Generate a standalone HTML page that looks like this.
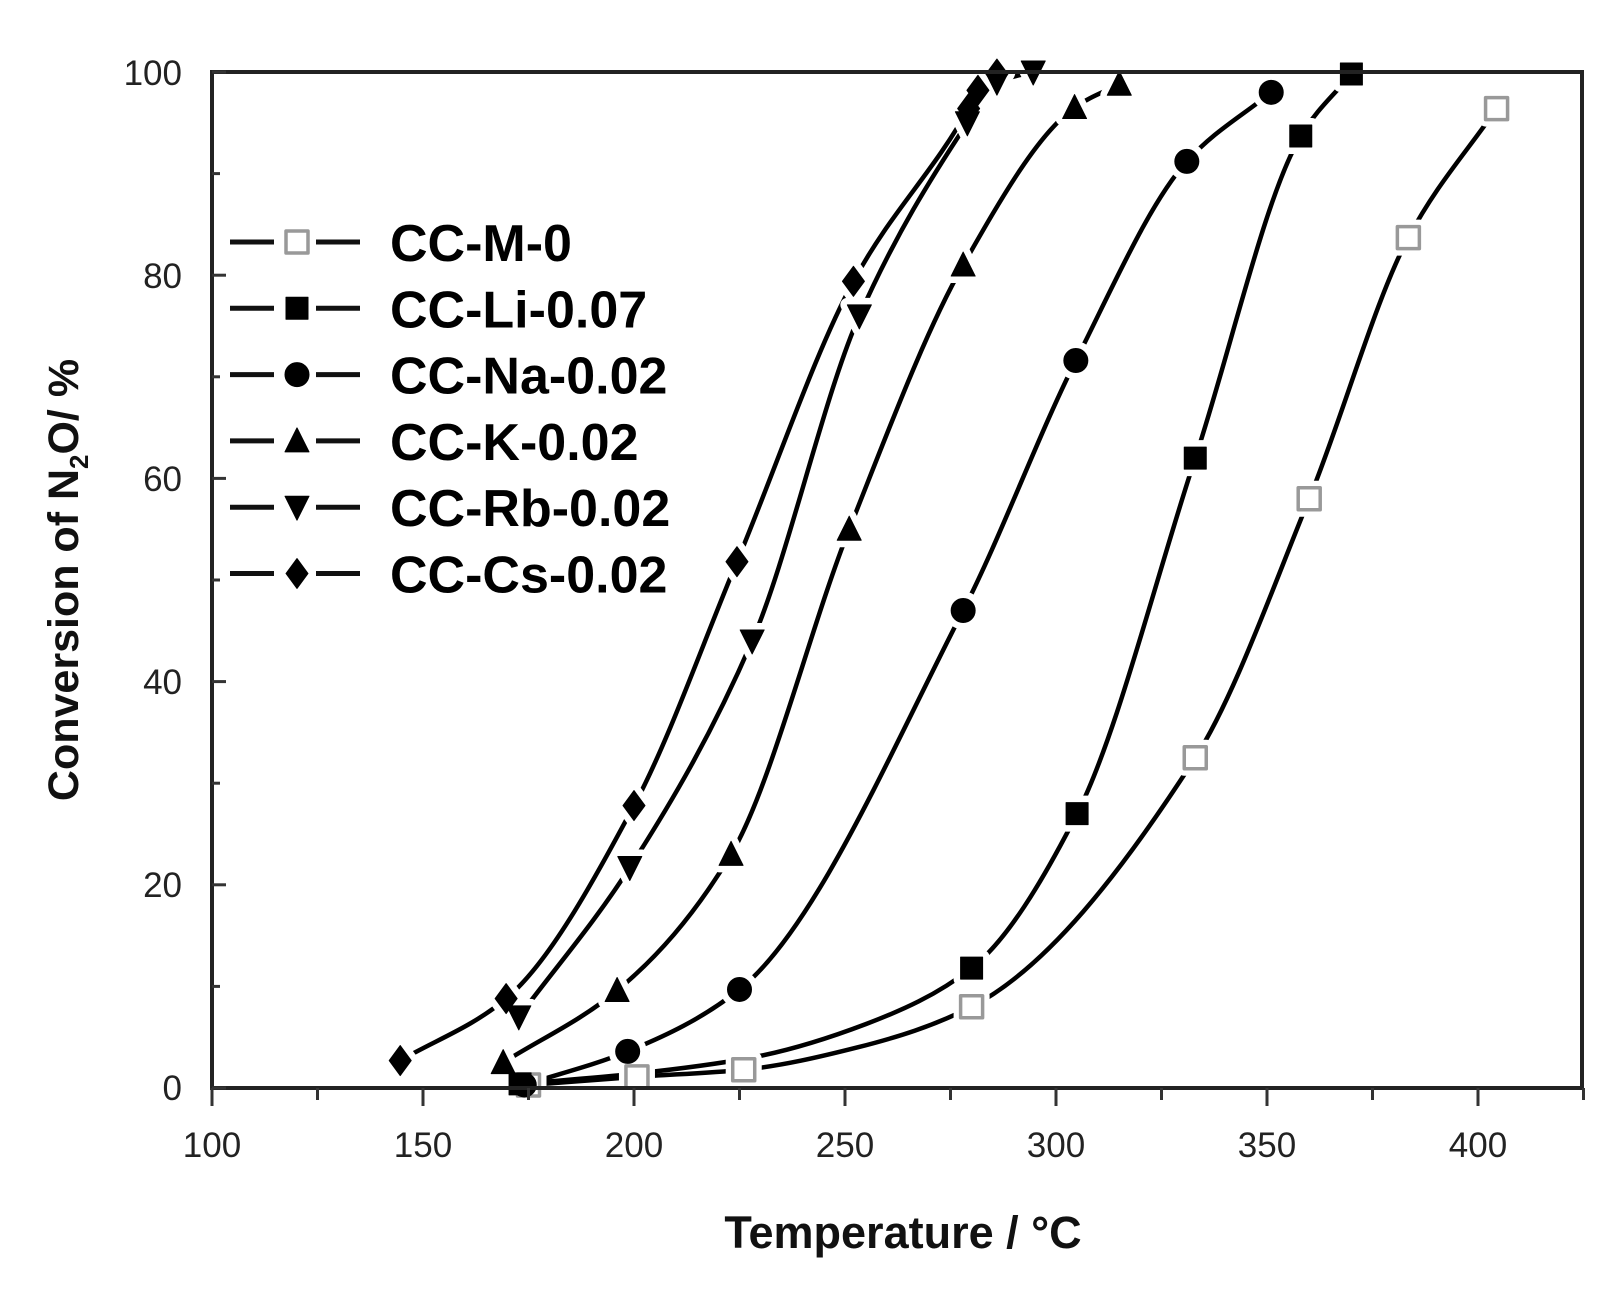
<!DOCTYPE html>
<html><head><meta charset="utf-8"><style>
html,body{margin:0;padding:0;background:#fff;}
svg{display:block;}
text{font-family:"Liberation Sans",Arial,sans-serif;}
</style></head><body>
<svg id="s" width="1620" height="1296" viewBox="0 0 1620 1296" xmlns="http://www.w3.org/2000/svg">
<rect width="1620" height="1296" fill="#fff"/>
<g id="curves" fill="none" stroke="#000" stroke-width="4.5"></g>
<g id="marks"></g>
<rect x="212" y="72" width="1370" height="1016" fill="none" stroke="#222" stroke-width="4"/>
<g id="ticks" stroke="#333" stroke-width="3"></g>
<g font-size="35" fill="#222" text-anchor="end">
<text x="182" y="1100">0</text>
<text x="182" y="897">20</text>
<text x="182" y="694">40</text>
<text x="182" y="491">60</text>
<text x="182" y="288">80</text>
<text x="182" y="85">100</text>
</g>
<g font-size="35" fill="#222" text-anchor="middle">
<text x="212" y="1157">100</text>
<text x="423" y="1157">150</text>
<text x="634" y="1157">200</text>
<text x="845" y="1157">250</text>
<text x="1056" y="1157">300</text>
<text x="1267" y="1157">350</text>
<text x="1478" y="1157">400</text>
</g>
<text x="903" y="1248" font-size="45" font-weight="bold" fill="#111" text-anchor="middle">Temperature / °C</text>
<text transform="translate(78,580) rotate(-90)" font-size="43" font-weight="bold" fill="#111" text-anchor="middle">Conversion of N<tspan font-size="26" dy="10">2</tspan><tspan dy="-10">O/ %</tspan></text>
<g id="legend" font-size="52" font-weight="bold" fill="#000"></g>
</svg>
<script>
var NS="http://www.w3.org/2000/svg";
function X(t){return 212+(t-100)*4.22;}
function Y(v){return 1088-v*10.16;}
function el(tag,a,p){var e=document.createElementNS(NS,tag);for(var k in a)e.setAttribute(k,a[k]);p.appendChild(e);return e;}
var ticks=document.getElementById('ticks');
for(var t=100;t<=425;t+=25){var maj=(t%50==0);el('line',{x1:X(t),x2:X(t),y1:1088,y2:1088+(maj?18:12)},ticks);}
for(var v=0;v<=100;v+=10){var maj=(v%20==0);el('line',{x1:212,x2:212+(maj?14:8),y1:Y(v),y2:Y(v)},ticks);}
// h: hidden shaping points (no marker)
var series=[
 {m:'osq',d:[[175,0.3],[200.7,1.1],[226,1.8],[280,8],[333,32.5],[360,58],[383.5,83.7],[404.4,96.4]],h:[[253,4]]},
 {m:'sq',d:[[173,0.4],[280,11.8],[305,27],[333,62],[358,93.7],[370,99.8]],h:[[200,1.4],[228,3],[255,6.3]]},
 {m:'ci',d:[[174,0.3],[198.5,3.6],[225,9.7],[278,47],[304.7,71.6],[331,91.2],[351,98]]},
 {m:'tu',d:[[169,2.5],[196,9.6],[223,23],[251,55],[278,81],[304.4,96.5],[315,98.8]]},
 {m:'td',d:[[172.7,7],[199,21.7],[228,44],[253.4,76],[279,95],[286,99],[294.6,100]]},
 {m:'di',d:[[144.6,2.7],[169.7,8.8],[200,27.8],[224.4,51.8],[252,79.4],[279.3,96.4],[281.5,98.2],[286,99.8]]}
];
var cg=document.getElementById('curves'),mg=document.getElementById('marks');
function mono(pts){var n=pts.length,dx=[],m=[],t=[];
 for(var i=0;i<n-1;i++){dx[i]=pts[i+1][0]-pts[i][0];m[i]=(pts[i+1][1]-pts[i][1])/dx[i];}
 t[0]=m[0];t[n-1]=m[n-2];
 for(var i=1;i<n-1;i++){if(m[i-1]*m[i]<=0)t[i]=0;else{var w1=2*dx[i]+dx[i-1],w2=dx[i]+2*dx[i-1];t[i]=(w1+w2)/(w1/m[i-1]+w2/m[i]);}}
 var s='M'+pts[0][0]+','+pts[0][1];
 for(var i=0;i<n-1;i++){var h=dx[i]/3;
  s+=' C'+(pts[i][0]+h)+','+(pts[i][1]+t[i]*h)+' '+(pts[i+1][0]-h)+','+(pts[i+1][1]-t[i+1]*h)+' '+pts[i+1][0]+','+pts[i+1][1];}
 return s;}
function marker(m,x,y,g,halo){var r=11,a;
 var fill=(m=='osq')?'#fff':'#000',stroke=(m=='osq')?'#999':'#000';
 if(halo){fill='#fff';stroke='#fff';}
 var sw=halo?14:(m=='osq'?3.5:1);
 if(m=='osq'||m=='sq')a=el('rect',{x:x-r,y:y-r,width:2*r,height:2*r},g);
 else if(m=='ci')a=el('circle',{cx:x,cy:y,r:r+1},g);
 else if(m=='tu')a=el('polygon',{points:(x)+','+(y-r-2)+' '+(x+r+1)+','+(y+r)+' '+(x-r-1)+','+(y+r)},g);
 else if(m=='td')a=el('polygon',{points:(x)+','+(y+r+2)+' '+(x+r+1)+','+(y-r)+' '+(x-r-1)+','+(y-r)},g);
 else a=el('polygon',{points:x+','+(y-r-4)+' '+(x+r)+','+y+' '+x+','+(y+r+4)+' '+(x-r)+','+y},g);
 a.setAttribute('fill',fill);a.setAttribute('stroke',stroke);a.setAttribute('stroke-width',sw);a.setAttribute('stroke-linejoin','round');}
series.forEach(function(s){var all=s.d.concat(s.h||[]).sort(function(a,b){return a[0]-b[0];});
 var pts=all.map(function(p){return [X(p[0]),Y(p[1])];});
 el('path',{d:mono(pts)},cg);});
series.forEach(function(s){s.d.forEach(function(p){marker(s.m,X(p[0]),Y(p[1]),mg,true);});});
series.forEach(function(s){s.d.forEach(function(p){marker(s.m,X(p[0]),Y(p[1]),mg,false);});});
var names=['CC-M-0','CC-Li-0.07','CC-Na-0.02','CC-K-0.02','CC-Rb-0.02','CC-Cs-0.02'];
var lg=document.getElementById('legend');
names.forEach(function(n,i){var y=242+i*66.3;
 el('line',{x1:230,x2:274,y1:y,y2:y,stroke:'#111','stroke-width':5},lg);
 el('line',{x1:316,x2:360,y1:y,y2:y,stroke:'#111','stroke-width':5},lg);
 marker(series[i].m,297,y,lg,false);
 var t=el('text',{x:390,y:y+19},lg);t.textContent=n;});
</script>
</body></html>
